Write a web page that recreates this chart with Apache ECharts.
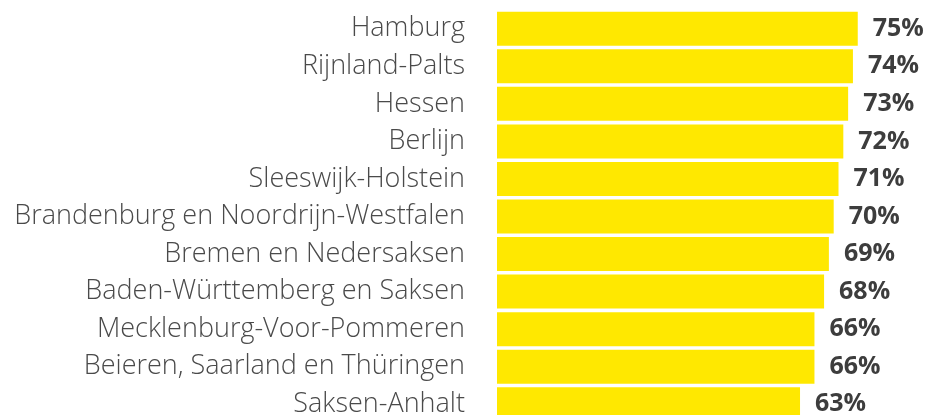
<!DOCTYPE html>
<html>
<head>
<meta charset="utf-8">
<script src="https://cdn.jsdelivr.net/npm/echarts@6/dist/echarts.min.js"></script>
<style>
  html, body { margin: 0; padding: 0; background: #fff; }
  #chart { width: 929px; height: 415px; }
</style>
</head>
<body>
<div id="chart"></div>
<script>
// regio's, van boven naar onder
const regions = [
  'Hamburg',
  'Rijnland-Palts',
  'Hessen',
  'Berlijn',
  'Sleeswijk-Holstein',
  'Brandenburg en Noordrijn-Westfalen',
  'Bremen en Nedersaksen',
  'Baden-Württemberg en Saksen',
  'Mecklenburg-Voor-Pommeren',
  'Beieren, Saarland en Thüringen',
  'Saksen-Anhalt'
];
const percentages = [75, 74, 73, 72, 71, 70, 69, 68, 66, 66, 63];

const chart = echarts.init(document.getElementById('chart'));
chart.setOption({
  animation: false,
  grid: { left: 497, top: 10, width: 481, height: 413, outerBoundsMode: 'none' },
  xAxis: {
    type: 'value',
    min: 0,
    max: 100,
    show: false
  },
  yAxis: {
    type: 'category',
    inverse: true,
    data: regions,
    axisLine: { show: false },
    axisTick: { show: false },
    axisLabel: {
      margin: 32,
      fontFamily: 'Open Sans',
      fontWeight: 300,
      fontSize: 27,
      color: '#4a4a4a'
    }
  },
  series: [{
    type: 'bar',
    data: percentages,
    barWidth: 34,
    itemStyle: { color: '#FFE800' },
    label: {
      show: true,
      position: 'right',
      distance: 15,
      formatter: '{c}%',
      fontFamily: 'Open Sans',
      fontWeight: 'bold',
      fontSize: 25,
      color: '#3d3d3d'
    }
  }]
});
</script>
</body>
</html>
